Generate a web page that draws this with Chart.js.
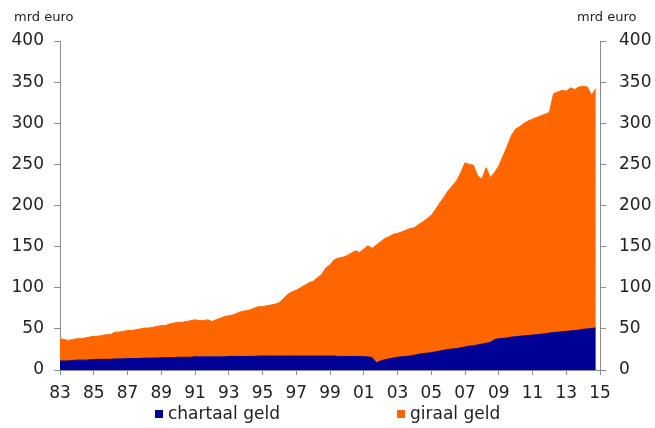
<!DOCTYPE html>
<html><head><meta charset="utf-8">
<script src="https://cdn.jsdelivr.net/npm/chart.js@4/dist/chart.umd.min.js"></script>
<style>
html,body{margin:0;padding:0;background:#fff;}
#wrap{position:relative;width:655px;height:428px;overflow:hidden;font-family:"DejaVu Sans",Verdana,sans-serif;color:#222;}
.unit{position:absolute;font-size:13px;top:9px;}
.leg{position:absolute;top:403px;font-size:17px;white-space:nowrap;}
.box{display:inline-block;width:8px;height:8px;margin-right:5px;vertical-align:1px;}
</style></head>
<body><div id="wrap">
<canvas id="c" width="655" height="428"></canvas>
<div class="unit" style="left:14px">mrd euro</div>
<div class="unit" style="left:577px">mrd euro</div>
<div class="leg" style="left:155px"><span class="box" style="background:#000096"></span><span id="l0"></span></div>
<div class="leg" style="left:397px"><span class="box" style="background:#ff6600"></span><span id="l1"></span></div>
</div>
<script>
const seriesNames = ['chartaal geld', 'giraal geld'];
const years = [1983,1984,1985,1986,1987,1988,1989,1990,1991,1992,1993,1994,1995,1996,1997,1998,
               1999,2000,2001,2002,2003,2004,2005,2006,2007,2008,2009,2010,2011,2012,2013,2014];
const quarterOffsets = [0, 0.25, 0.5, 0.75];
const chartaal = [
 11,11,11,11.5, 12,12,12,12.5, 12.5,13,13,13, 13,13.5,13.5,13.5,
 14,14,14,14, 14.5,14.5,14.5,14.5, 15,15,15,15, 15.5,15.5,15.5,15.5,
 16,16,16,16, 16,16,16,16, 16.5,16.5,16.5,16.5, 16.5,16.5,16.5,17,
 17,17,17,17, 17,17,17,17, 17,17,17,17, 17,17,17,17,
 17,17,16.5,16.5, 16.5,16.5,16.5,16.5, 16,16,15,9, 11,12.5,13.5,14.5,
 15.5,16,16.5,17, 18,19,20,20.5, 21,22,23,24, 25,25.5,26,27,
 28,29,29.5,30.5, 31.5,32.5,33.5,37, 38,38.5,39,40, 40.5,41,41.5,42,
 42.5,43,43.5,44, 45,45.5,46,46.5, 47,47.5,48,48.5, 49.5,50,50.5,51
];
const giraal = [
 27,26,25,25.5, 26,26,27,27.5, 28.5,28,29,30, 30,32.5,32.5,33.5,
 34,34,35,36, 36.5,36.5,37.5,38.5, 39,39,41,42, 42.5,42.5,43.5,44.5,
 45,44,44,45, 43,45,47,49, 49.5,50.5,52.5,54.5, 55.5,56.5,58.5,60,
 60,61,62,63, 65,70,75,78, 80,83,86,89, 91,95,99,107,
 111,117,119.5,120.5, 122.5,125.5,128.5,126.5, 131,135,133,143, 145,147.5,148.5,150.5,
 150.5,152,153.5,155, 155,158,160,163.5, 167,173,180,186, 193,198.5,204,213,
 224,221,219.5,205.5, 200.5,213.5,200.5,203, 210,221.5,233,245, 252.5,255,258.5,261,
 262.5,264,265.5,267, 268,290.5,292,293.5, 292,295.5,293,295.5, 295.5,294,283.5,291
];
const yTicks = [0,50,100,150,200,250,300,350,400];

document.getElementById('l0').textContent = seriesNames[0];
document.getElementById('l1').textContent = seriesNames[1];

function pts(vals){
  return vals.map((v,i)=>({x: years[Math.floor(i/4)] + quarterOffsets[i%4], y: v}));
}
const FONT = {family:'"DejaVu Sans", Verdana, sans-serif', size:17};
const axisCol = '#8c8c8c';
function yAxis(pos, pad, w){
  return {
    type:'linear', position:pos, min:0, max:400, stacked:true,
    afterBuildTicks: s => { s.ticks = yTicks.map(v=>({value:v})); },
    afterFit: s => { s.width = w; },
    ticks:{font:FONT, color:'#222', padding:pad},
    grid:{drawOnChartArea:false, drawTicks:true, tickLength:6, color:axisCol},
    border:{display:true, color:axisCol, width:1}
  };
}
new Chart(document.getElementById('c'), {
  type:'line',
  data:{datasets:[
    {label:seriesNames[0], data:pts(chartaal), backgroundColor:'#000096', borderColor:'#000096',
     borderWidth:1, pointRadius:0, fill:'origin', tension:0},
    {label:seriesNames[1], data:pts(giraal), backgroundColor:'#ff6600', borderColor:'#ff6600',
     borderWidth:1, pointRadius:0, fill:'-1', tension:0}
  ]},
  options:{
    responsive:false, animation:false,
    layout:{padding:{left:0, right:0, top:41, bottom:0}},
    plugins:{legend:{display:false}, tooltip:{enabled:false}},
    scales:{
      x:{type:'linear', min:1983, max:2015,
         afterFit: s => { s.height = 58; },
         ticks:{stepSize:2, font:FONT, color:'#222', padding:8, maxRotation:0, autoSkip:false,
                callback: v => String(v%100).padStart(2,'0')},
         grid:{drawOnChartArea:false, drawTicks:true, tickLength:5, color:axisCol},
         border:{display:true, color:axisCol, width:1}},
      y: yAxis('left', 10, 60),
      y2: yAxis('right', 13, 55)
    }
  }
});
</script>
</body></html>
